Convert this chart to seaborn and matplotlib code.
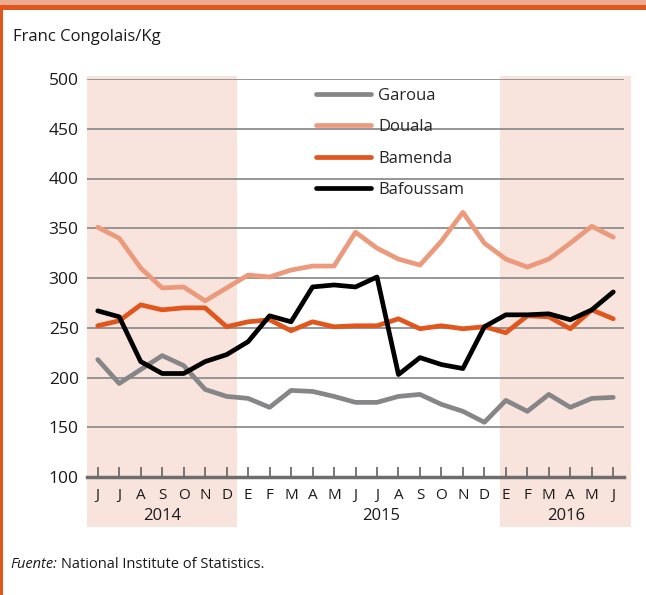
import pandas as pd
import matplotlib
matplotlib.use("Agg")
import matplotlib.pyplot as plt
import matplotlib.transforms as mtransforms
from matplotlib.patches import Rectangle
import seaborn as sns

# Monthly prices, June 2014 - June 2016
months = ['J', 'J', 'A', 'S', 'O', 'N', 'D',
          'E', 'F', 'M', 'A', 'M', 'J', 'J', 'A', 'S', 'O', 'N', 'D',
          'E', 'F', 'M', 'A', 'M', 'J']
years = ['2014', '2015', '2016']
year_pos = [3, 13.2, 21.8]
cities = ['Garoua', 'Douala', 'Bamenda', 'Bafoussam']
garoua = [218, 194, 208, 222, 212, 188, 181, 179, 170, 187, 186, 181, 175,
          175, 181, 183, 173, 166, 155, 177, 166, 183, 170, 179, 180]
douala = [351, 340, 310, 290, 291, 277, 290, 303, 301, 308, 312, 312, 346,
          330, 319, 313, 337, 366, 335, 319, 311, 319, 335, 352, 341]
bamenda = [252, 257, 273, 268, 270, 270, 251, 256, 258, 247, 256, 251, 252,
           252, 259, 249, 252, 249, 251, 245, 262, 261, 249, 268, 259]
bafoussam = [267, 261, 216, 204, 204, 216, 223, 236, 262, 256, 291, 293, 291,
             301, 203, 220, 213, 209, 251, 263, 263, 264, 258, 268, 286]

colors = ['#868689', '#eb9a7b', '#e0561c', '#000000']
band_color = '#f8e4dd'
grid_color = '#8e8e8e'

rows = []
for city, vals in zip(cities, [garoua, douala, bamenda, bafoussam]):
    for i, v in enumerate(vals):
        rows.append({'idx': i, 'value': v, 'city': city})
df = pd.DataFrame(rows)

sns.set_style("white")
plt.rcParams['font.family'] = ['Open Sans', 'DejaVu Sans']

fig = plt.figure(figsize=(6.46, 5.95), dpi=100)
ax = fig.add_axes([87 / 646, 118 / 595, 537 / 646, 398 / 595])
ax.set_facecolor('none')

# shaded year bands (extend below the axis into the label area)
trans = mtransforms.blended_transform_factory(ax.transData, ax.transAxes)
for x0, x1 in [(-0.5, 6.5), (18.73, 24.83)]:
    ax.add_patch(Rectangle((x0, -0.126), x1 - x0, 1.134, transform=trans,
                           color=band_color, lw=0, zorder=0, clip_on=False))

sns.lineplot(data=df, x='idx', y='value', hue='city', hue_order=cities,
             palette=colors, linewidth=3.4, ax=ax, zorder=3)

ax.set_xlim(-0.5, 24.5)
ax.set_ylim(100, 500)
ax.set_yticks(range(100, 501, 50))
ax.set_xticks(range(len(months)))
ax.set_xticklabels(months)
ax.set_xlabel('')
ax.set_ylabel('')

ax.yaxis.grid(True, color=grid_color, lw=1.3)
ax.xaxis.grid(False)
ax.set_axisbelow(True)
for s in ['top', 'right', 'left']:
    ax.spines[s].set_visible(False)
ax.spines['bottom'].set_color('#6d6d6d')
ax.spines['bottom'].set_linewidth(2.5)
ax.spines['bottom'].set_zorder(4)

ax.tick_params(axis='y', length=0, pad=6, labelsize=12.5, labelcolor='#1a1a1a')
ax.tick_params(axis='x', direction='in', length=7, width=1.3, color='#6d6d6d',
               pad=8, labelsize=11, labelcolor='#1a1a1a', bottom=True)

for yr, xp in zip(years, year_pos):
    ax.text(xp, -0.099, yr, transform=trans, ha='center', va='center',
            fontsize=12, color='#1a1a1a')

handles, labels = ax.get_legend_handles_labels()
ax.legend(handles, labels, loc='upper left', bbox_to_anchor=(0.426, 0.978),
          frameon=False, fontsize=12, handlelength=3.3, handletextpad=0.45,
          labelspacing=0.93, borderpad=0, borderaxespad=0)

fig.text(13 / 646, 1 - 37 / 595, 'Franc Congolais/Kg', fontsize=12,
         va='center', ha='left', color='#1a1a1a')
fig.text(10 / 646, 1 - 565 / 595, 'Fuente:', fontsize=10.5, style='italic',
         va='center', ha='left', color='#1a1a1a')
fig.text(61 / 646, 1 - 565 / 595, 'National Institute of Statistics.',
         fontsize=10.5, va='center', ha='left', color='#1a1a1a')

# orange frame at top and left
fig.add_artist(Rectangle((0, 1 - 5 / 595), 1, 5 / 595, transform=fig.transFigure,
                         color='#eeaa90', lw=0))
fig.add_artist(Rectangle((0, 1 - 10 / 595), 1, 5 / 595, transform=fig.transFigure,
                         color='#e0561c', lw=0))
fig.add_artist(Rectangle((0, 0), 3 / 646, 1 - 10 / 595, transform=fig.transFigure,
                         color='#e0561c', lw=0))

fig.savefig('out.png', dpi=100)
